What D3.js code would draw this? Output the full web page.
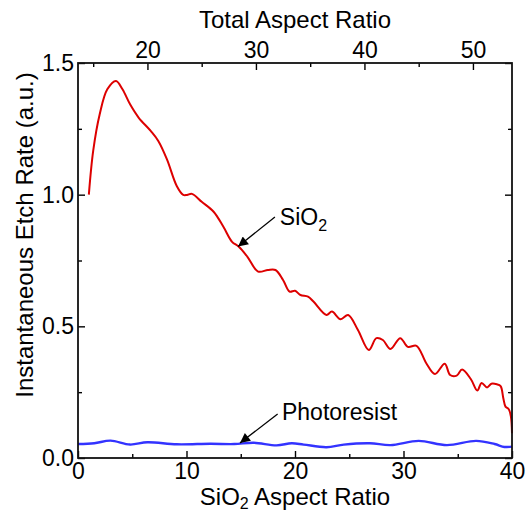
<!DOCTYPE html>
<html>
<head>
<meta charset="utf-8">
<script src="https://cdn.jsdelivr.net/npm/d3@7"></script>
<style>
  body { margin: 0; background: #fff; }
  text { font-family: "Liberation Sans", Arial, sans-serif; fill: #000; }
  .frame { fill: none; stroke: #111; stroke-width: 1.8; }
  .axis path { display: none; }
  .axis line { stroke: #000; stroke-width: 1.4; }
  .axis text { font-size: 23px; }
  .title { font-size: 24px; }
  .note { font-size: 23px; }
</style>
</head>
<body>
<svg id="chart" width="532" height="511"></svg>
<script>

// SiO2 etch rate vs SiO2 aspect ratio
var sio2X = [1.0, 1.4, 2.0, 2.7, 3.5, 4.1, 4.8, 5.6, 6.7, 7.4, 8.2, 9.1, 9.7, 10.05, 10.5,
  11.4, 12.5, 13.4, 14.2, 14.8, 15.6, 16.6, 17.5, 18.2, 18.9, 19.5, 20.0, 20.5, 21.2,
  21.7, 22.9, 23.4, 24.2, 24.9, 25.8, 26.8, 27.5, 28.1, 28.8, 29.7, 30.4, 31.2, 32.1,
  32.9, 33.8, 34.3, 34.9, 35.4, 36.2, 36.8, 37.2, 37.7, 38.1, 38.6, 38.95, 39.2, 39.4,
  39.7, 39.9, 40.0];
var sio2Y = [1.0, 1.166, 1.305, 1.40, 1.432, 1.40, 1.343, 1.292, 1.242, 1.204, 1.134, 1.033,
  0.999, 0.999, 1.003, 0.973, 0.935, 0.878, 0.821, 0.803, 0.765, 0.708, 0.714, 0.714, 0.676,
  0.632, 0.635, 0.619, 0.613, 0.594, 0.543, 0.556, 0.527, 0.543, 0.486, 0.41, 0.455, 0.448,
  0.414, 0.455, 0.422, 0.426, 0.36, 0.319, 0.358, 0.315, 0.313, 0.336, 0.3, 0.256, 0.285,
  0.268, 0.282, 0.28, 0.273, 0.227, 0.195, 0.185, 0.157, 0.094];

// photoresist etch rate
var prX = [0, 1.5, 3.0, 4.8, 6.4, 9.1, 12.2, 14.4, 16.2, 18.3, 19.7, 20.8, 22.9, 24.5,
  26.9, 28.8, 31.4, 34.0, 36.7, 38.4, 39.3, 40.0];
var prY = [0.053, 0.056, 0.066, 0.051, 0.06, 0.052, 0.054, 0.053, 0.058, 0.048, 0.056,
  0.051, 0.041, 0.051, 0.056, 0.049, 0.065, 0.049, 0.065, 0.053, 0.042, 0.043];

var bottomTicks = [0, 10, 20, 30, 40];
var bottomMinor = [5, 15, 25, 35];
var leftTicks = [0, 0.5, 1.0, 1.5];
var leftMinor = [0.25, 0.75, 1.25];
var topTicks = [20, 30, 40, 50];
var topMinor = [15, 25, 35, 45];
var totalOffset = 13.6; // total aspect ratio = SiO2 aspect ratio + offset

var margin = {top: 63, right: 20, bottom: 53, left: 78};
var svg = d3.select("#chart");
var width = +svg.attr("width") - margin.left - margin.right;
var height = +svg.attr("height") - margin.top - margin.bottom;

var g = svg.append("g")
  .attr("transform", "translate(" + margin.left + "," + margin.top + ")");

var x = d3.scaleLinear().domain([0, 40]).range([0, width]);
var xTop = d3.scaleLinear().domain([totalOffset, 40 + totalOffset]).range([0, width]);
var y = d3.scaleLinear().domain([0, 1.5]).range([height, 0]);

// axes, ticks pointing inward
g.append("g").attr("class", "axis")
  .attr("transform", "translate(0," + height + ")")
  .call(d3.axisBottom(x).tickValues(bottomTicks).tickSize(-7).tickPadding(5)
    .tickFormat(d3.format("d")));
g.append("g").attr("class", "axis")
  .attr("transform", "translate(0," + height + ")")
  .call(d3.axisBottom(x).tickValues(bottomMinor).tickSize(-4).tickFormat(""));

g.append("g").attr("class", "axis")
  .call(d3.axisTop(xTop).tickValues(topTicks).tickSize(-7).tickPadding(5)
    .tickFormat(d3.format("d")));
g.append("g").attr("class", "axis")
  .call(d3.axisTop(xTop).tickValues(topMinor).tickSize(-4).tickFormat(""));

g.append("g").attr("class", "axis")
  .call(d3.axisLeft(y).tickValues(leftTicks).tickSize(-7).tickPadding(4)
    .tickFormat(d3.format(".1f")));
g.append("g").attr("class", "axis")
  .call(d3.axisLeft(y).tickValues(leftMinor).tickSize(-4).tickFormat(""));

g.append("g").attr("class", "axis")
  .attr("transform", "translate(" + width + ",0)")
  .call(d3.axisRight(y).tickValues(leftTicks).tickSize(-7).tickFormat(""));
g.append("g").attr("class", "axis")
  .attr("transform", "translate(" + width + ",0)")
  .call(d3.axisRight(y).tickValues(leftMinor).tickSize(-4).tickFormat(""));

// lines
var line = d3.line()
  .x(function (d) { return x(d[0]); })
  .y(function (d) { return y(d[1]); })
  .curve(d3.curveCatmullRom.alpha(0.5));

g.append("path")
  .datum(d3.zip(prX, prY))
  .attr("d", line)
  .attr("fill", "none")
  .attr("stroke", "#3333ff")
  .attr("stroke-width", 2.4);

g.append("path")
  .datum(d3.zip(sio2X, sio2Y))
  .attr("d", line)
  .attr("fill", "none")
  .attr("stroke", "#dd0000")
  .attr("stroke-width", 2);

g.append("rect")
  .attr("class", "frame")
  .attr("width", width)
  .attr("height", height);

// annotations
svg.append("defs").append("marker")
  .attr("id", "head")
  .attr("viewBox", "0 0 10 10")
  .attr("refX", 10).attr("refY", 5)
  .attr("markerWidth", 16).attr("markerHeight", 10)
  .attr("markerUnits", "userSpaceOnUse")
  .attr("orient", "auto")
  .append("path")
  .attr("d", "M0,0 L10,5 L0,10 z")
  .attr("fill", "#000");

function arrow(x1, y1, x2, y2) {
  g.append("line")
    .attr("x1", x(x1)).attr("y1", y(y1))
    .attr("x2", x(x2)).attr("y2", y(y2))
    .attr("stroke", "#000")
    .attr("stroke-width", 1.3)
    .attr("marker-end", "url(#head)");
}

arrow(18.15, 0.915, 14.75, 0.803);
arrow(18.4, 0.167, 14.93, 0.057);

var sio2Label = g.append("text")
  .attr("class", "note")
  .attr("x", x(18.6))
  .attr("y", y(0.885));
sio2Label.append("tspan").text("SiO");
sio2Label.append("tspan").attr("dy", 6).style("font-size", "16px").text("2");

g.append("text")
  .attr("class", "note")
  .attr("x", x(18.8))
  .attr("y", y(0.145))
  .text("Photoresist");

// axis titles
var xTitle = svg.append("text")
  .attr("class", "title")
  .attr("text-anchor", "middle")
  .attr("x", margin.left + width / 2)
  .attr("y", 505);
xTitle.append("tspan").text("SiO");
xTitle.append("tspan").attr("dy", 4).style("font-size", "16px").text("2");
xTitle.append("tspan").attr("dy", -4).text(" Aspect Ratio");

svg.append("text")
  .attr("class", "title")
  .attr("text-anchor", "middle")
  .attr("x", margin.left + width / 2)
  .attr("y", 28)
  .text("Total Aspect Ratio");

svg.append("text")
  .attr("class", "title")
  .attr("text-anchor", "middle")
  .attr("transform", "translate(33,235) rotate(-90)")
  .text("Instantaneous Etch Rate (a.u.)");

</script>
</body>
</html>
